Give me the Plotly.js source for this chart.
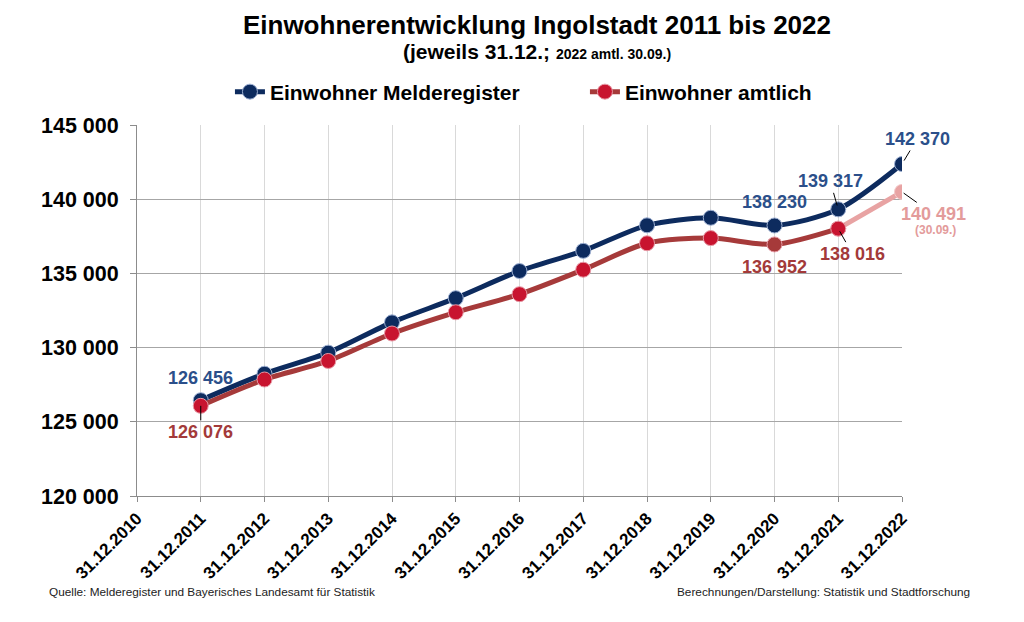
<!DOCTYPE html>
<html>
<head>
<meta charset="utf-8">
<script src="https://cdn.plot.ly/plotly-3.0.1.min.js"></script>
<style>
  html, body { margin: 0; padding: 0; background: #ffffff; }
  #chart { width: 1024px; height: 622px; }
</style>
</head>
<body>
<div id="chart"></div>
<script>
// ---- data ----
const categories = ['31.12.2010','31.12.2011','31.12.2012','31.12.2013','31.12.2014','31.12.2015',
  '31.12.2016','31.12.2017','31.12.2018','31.12.2019','31.12.2020','31.12.2021','31.12.2022'];
const dataDates = categories.slice(1);                     // 2011 .. 2022
const melderegister = [126456, 128240, 129660, 131700, 133330, 135160, 136520, 138240, 138750, 138230, 139317, 142370];
const amtlichDates = categories.slice(1, 12);              // 2011 .. 2021
const amtlich = [126076, 127850, 129100, 130950, 132380, 133600, 135250, 137030, 137380, 136952, 138016];
const amtlich2022Dates = ['31.12.2021', '31.12.2022'];
const amtlich2022 = [138016, 140491];
const yTicks = [120000, 125000, 130000, 135000, 140000, 145000];

const FONT = 'Liberation Sans, Arial, sans-serif';
const BLUE = '#0d2b5e', BLUE_LBL = '#2b4f8a';
const RED_LINE = '#a63a3a', RED_MK = '#c8142f', RED_LBL = '#a33a3a';
const PINK = '#e8a3a3', PINK_LBL = '#e39b9b';

function fmt(n) { return String(n).replace(/\B(?=(\d{3})+(?!\d))/g, ' '); }

const redMarkerColors = amtlich.map((v, i) => amtlichDates[i] === '31.12.2020' ? RED_LINE : RED_MK);

const traces = [
  {
    name: 'Einwohner Melderegister', x: dataDates, y: melderegister, type: 'scatter', mode: 'lines+markers',
    line: { color: BLUE, width: 5, shape: 'spline', smoothing: 0.8 },
    marker: { color: BLUE, size: 15, line: { color: '#9fb1d3', width: 1 } },
    hoverinfo: 'skip'
  },
  {
    name: 'amtlich 2022', x: amtlich2022Dates, y: amtlich2022, type: 'scatter', mode: 'lines+markers',
    line: { color: PINK, width: 5 },
    marker: { color: PINK, size: 15, line: { color: '#f3caca', width: 1 } },
    showlegend: false, hoverinfo: 'skip'
  },
  {
    name: 'Einwohner amtlich', x: amtlichDates, y: amtlich, type: 'scatter', mode: 'lines+markers',
    line: { color: RED_LINE, width: 5, shape: 'spline', smoothing: 0.8 },
    marker: { color: redMarkerColors, size: 15, line: { color: '#e79aa6', width: 1 } },
    hoverinfo: 'skip'
  }
];

function idx(arr, d) { return arr[dataDates.indexOf(d)]; }
const lblFont = (c, s) => ({ family: FONT, size: s || 18, color: c, weight: 'bold' });

const annotations = [
  // title subtitle
  { xref: 'paper', yref: 'paper', x: 0.5235, y: 1.197, xanchor: 'center', yanchor: 'middle', showarrow: false,
    text: '(jeweils 31.12.; <span style="font-size:14px">2022 amtl. 30.09.)</span>',
    font: { family: FONT, size: 21, color: '#000', weight: 'bold' } },
  // footer
  { xref: 'paper', yref: 'paper', x: -0.1175, y: -0.259, xanchor: 'left', yanchor: 'middle', showarrow: false,
    text: 'Quelle: Melderegister und Bayerisches Landesamt für Statistik', font: { family: FONT, size: 11.8, color: '#222' } },
  { xref: 'paper', yref: 'paper', x: 1.0915, y: -0.259, xanchor: 'right', yanchor: 'middle', showarrow: false,
    text: 'Berechnungen/Darstellung: Statistik und Stadtforschung', font: { family: FONT, size: 11.8, color: '#222' } },
  // data labels Melderegister
  { x: '31.12.2011', y: idx(melderegister, '31.12.2011'), text: fmt(idx(melderegister, '31.12.2011')), showarrow: false, yshift: 22, font: lblFont(BLUE_LBL) },
  { x: '31.12.2020', y: idx(melderegister, '31.12.2020'), text: fmt(idx(melderegister, '31.12.2020')), showarrow: false, yshift: 23, font: lblFont(BLUE_LBL) },
  { x: '31.12.2021', y: idx(melderegister, '31.12.2021'), text: fmt(idx(melderegister, '31.12.2021')), showarrow: true, arrowhead: 0, arrowwidth: 1, arrowcolor: '#000', ax: -8, ay: -28, standoff: 4, font: lblFont(BLUE_LBL) },
  { x: '31.12.2022', y: idx(melderegister, '31.12.2022'), text: fmt(idx(melderegister, '31.12.2022')), showarrow: true, arrowhead: 0, arrowwidth: 1, arrowcolor: '#000', ax: 15, ay: -25, standoff: 4, font: lblFont(BLUE_LBL) },
  // data labels amtlich
  { x: '31.12.2011', y: amtlich[0], text: fmt(amtlich[0]), showarrow: true, arrowhead: 0, arrowwidth: 1, arrowcolor: '#000', ax: 0, ay: 26, standoff: 0, font: lblFont(RED_LBL) },
  { x: '31.12.2020', y: amtlich[9], text: fmt(amtlich[9]), showarrow: false, yshift: -23, font: lblFont(RED_LBL) },
  { x: '31.12.2021', y: amtlich[10], text: fmt(amtlich[10]), showarrow: true, arrowhead: 0, arrowwidth: 1, arrowcolor: '#000', ax: 14, ay: 25, standoff: 3, font: lblFont(RED_LBL) },
  { x: '31.12.2022', y: amtlich2022[1], text: fmt(amtlich2022[1]), showarrow: true, arrowhead: 0, arrowwidth: 1, arrowcolor: '#000', ax: 31, ay: 22, standoff: 2, font: lblFont(PINK_LBL) },
  { x: '31.12.2022', y: amtlich2022[1], text: '(30.09.)', showarrow: false, xshift: 33, yshift: -38, font: lblFont(PINK_LBL, 12) }
];

const layout = {
  width: 1024, height: 622,
  paper_bgcolor: '#ffffff', plot_bgcolor: '#ffffff',
  margin: { l: 137, r: 122, t: 125, b: 126 },
  font: { family: FONT, color: '#000' },
  separators: ', ',
  title: {
    text: 'Einwohnerentwicklung Ingolstadt 2011 bis 2022',
    xref: 'container', yref: 'container', x: 0.5244, y: 0.96, xanchor: 'center', yanchor: 'middle',
    font: { family: FONT, size: 26, color: '#000', weight: 'bold' }
  },
  showlegend: true,
  legend: {
    orientation: 'h', xref: 'paper', yref: 'paper', x: 0.1215, y: 1.089, xanchor: 'left', yanchor: 'middle',
    font: { family: FONT, size: 21, color: '#000', weight: 'bold' },
    entrywidth: 310, itemwidth: 30, bgcolor: 'rgba(0,0,0,0)'
  },
  xaxis: {
    type: 'category', categoryorder: 'array', categoryarray: categories,
    range: [0, 12], tickvals: categories, ticktext: categories,
    tickangle: -45, tickfont: { family: FONT, size: 17, color: '#000', weight: 'bold' },
    showgrid: true, gridcolor: '#d9d9d9', gridwidth: 1,
    showline: true, linecolor: '#8c8c8c', linewidth: 1,
    ticks: 'outside', ticklen: 5, tickcolor: '#8c8c8c', zeroline: false, fixedrange: true
  },
  yaxis: {
    range: [120000, 145000], tickvals: yTicks, tickformat: ',d',
    tickfont: { family: FONT, size: 21.5, color: '#000', weight: 'bold' },
    ticklabelstandoff: 7,
    showgrid: true, gridcolor: '#a6a6a6', gridwidth: 1,
    showline: true, linecolor: '#8c8c8c', linewidth: 1,
    ticks: 'outside', ticklen: 6, tickcolor: '#8c8c8c', zeroline: false, fixedrange: true
  },
  annotations: annotations,
  hovermode: false
};

Plotly.newPlot('chart', traces, layout, { displayModeBar: false, staticPlot: true });
</script>
</body>
</html>
